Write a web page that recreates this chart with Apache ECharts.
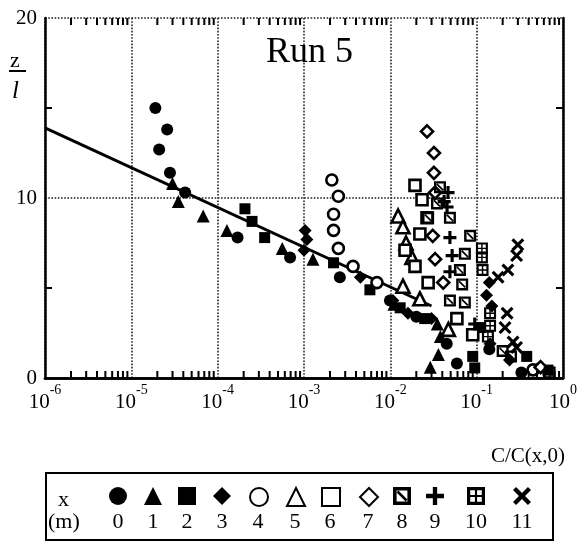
<!DOCTYPE html>
<html><head><meta charset="utf-8">
<script src="https://cdn.jsdelivr.net/npm/echarts@6/dist/echarts.min.js"></script>
<style>html,body{margin:0;padding:0;background:#fff}#c{width:584px;height:542px}</style>
</head><body><div id="c"></div>
<script>
// ---- data (C/C(x,0), z/l) ----
const seriesNames = ['0','1','2','3','4','5','6','7','8','9','10','11'];
const x0 = [[1.9e-5,15.0],[2.6e-5,13.8],[2.1e-5,12.7],[2.8e-5,11.4],[4.2e-5,10.3],[1.7e-4,7.8],[6.9e-4,6.7],[2.6e-3,5.6],[9.9e-3,4.3],[0.02,3.4],[0.045,1.9],[0.059,0.8],[0.14,1.6],[0.33,0.3]];
const x1 = [[3.0e-5,10.8],[3.5e-5,9.8],[6.8e-5,9.0],[1.28e-4,8.2],[5.6e-4,7.2],[1.27e-3,6.6],[0.011,4.1],[0.035,3.0],[0.038,2.3],[0.036,1.3],[0.029,0.6]];
const x2 = [[2.07e-4,9.4],[2.5e-4,8.7],[3.5e-4,7.8],[2.2e-3,6.4],[5.8e-3,4.9],[0.013,3.9],[0.025,3.3],[0.09,1.2],[0.095,0.56],[0.11,2.8],[0.38,1.2],[0.67,0.44]];
const x3 = [[1.03e-3,8.2],[1.08e-3,7.7],[1.0e-3,7.1],[4.5e-3,5.6],[0.0107,4.3],[0.016,3.6],[0.03,3.3],[0.14,5.3],[0.13,4.6],[0.15,4.0],[0.143,1.9],[0.24,1.0],[0.5,0.5]];
const x4 = [[2.1e-3,11.0],[2.5e-3,10.1],[2.2e-3,9.1],[2.2e-3,8.2],[2.5e-3,7.2],[3.7e-3,6.2],[7.0e-3,5.3],[0.45,0.45]];
const x5 = [[0.0123,9.0],[0.014,8.4],[0.0152,7.5],[0.0178,6.7],[0.014,5.1],[0.022,4.4],[0.047,2.7]];
const x6 = [[0.0193,10.7],[0.0233,9.9],[0.0266,8.9],[0.022,8.0],[0.0148,7.1],[0.0193,6.2],[0.0274,5.3],[0.059,3.3],[0.09,2.4]];
const x7 = [[0.0266,13.7],[0.032,12.5],[0.032,11.4],[0.033,10.3],[0.031,7.9],[0.033,6.6],[0.041,5.3],[0.55,0.6]];
const x8 = [[0.0376,10.6],[0.0347,9.7],[0.0274,8.9],[0.049,8.9],[0.084,7.9],[0.073,6.9],[0.064,6.0],[0.068,5.2],[0.049,4.3],[0.073,4.2],[0.2,1.5],[0.25,1.2],[0.7,0.3]];
const x9 = [[0.0466,10.3],[0.042,9.8],[0.0454,9.5],[0.049,7.8],[0.052,6.8],[0.049,5.9],[0.095,3.0]];
const x10 = [[0.115,7.2],[0.115,6.7],[0.117,6.0],[0.143,3.6],[0.143,2.9],[0.135,2.3]];
const x11 = [[0.30,7.4],[0.29,6.8],[0.23,6.0],[0.177,5.6],[0.225,3.6],[0.213,2.8],[0.264,2.0],[0.29,1.7]];
const fitLine = [[1e-6,13.9],[0.03,4.0]];
const yTickLabels = {0:'0',10:'10',20:'20'};
const yMinorTicks = [5,15];
const legendNumbers = ['0','1','2','3','4','5','6','7','8','9','10','11'];

// ---- layout / style ----
const FONT = 'Liberation Serif';
const X_MIN = 1e-6, X_MAX = 1, Y_MIN = 0, Y_MAX = 20;
const legendX = [118,153,187,222,258,295,330,368,402,435,476,522];
const minorTicks = [];
for (let e = -6; e < 0; e++) for (let m = 2; m <= 9; m++) minorTicks.push(m * Math.pow(10, e));

const P_SQ_X = 'path://M0,0H10V10H0Z M2,2V8H8V2Z M2,3L3,2L8,7L7,8Z';
const P_PLUS = 'path://M3.8,0H6.2V3.8H10V6.2H6.2V10H3.8V6.2H0V3.8H3.8Z';
const P_GRID = 'path://M0,0H10V10H0Z M1.8,1.8V4.4H4.4V1.8Z M5.6,1.8V4.4H8.2V1.8Z M1.8,5.6V8.2H4.4V5.6Z M5.6,5.6V8.2H8.2V5.6Z';
const P_X = 'path://M0,1.7L1.7,0L5,3.3L8.3,0L10,1.7L6.7,5L10,8.3L8.3,10L5,6.7L1.7,10L0,8.3L3.3,5Z';

const filled = {color:'#000', borderWidth:0, opacity:1};
const open = {color:'#fff', borderColor:'#000', borderWidth:2.6, opacity:1};
const styles = [
  {symbol:'circle', size:12, item:filled},
  {symbol:'triangle', size:13, item:filled},
  {symbol:'rect', size:11, item:filled},
  {symbol:'diamond', size:13, item:filled},
  {symbol:'circle', size:11, item:open},
  {symbol:'triangle', size:13, item:open},
  {symbol:'rect', size:11, item:open},
  {symbol:'diamond', size:12, item:open},
  {symbol:P_SQ_X, size:12, item:filled},
  {symbol:P_PLUS, size:13, item:filled},
  {symbol:P_GRID, size:12, item:filled},
  {symbol:P_X, size:13, item:filled}
];
const datasets = [x0,x1,x2,x3,x4,x5,x6,x7,x8,x9,x10,x11];
const TICK_LEN = 7;
const tickLine = (x1,y1,x2,y2) => ({type:'line', shape:{x1:x1,y1:y1,x2:x2,y2:y2}, style:{stroke:'#000', lineWidth:2}});

const series = [{
  type:'line', data:fitLine, symbol:'none', silent:true,
  lineStyle:{color:'#000', width:3}, z:1
}, {
  // minor log ticks on bottom and top frame
  type:'custom', silent:true, z:3, clip:false,
  data:minorTicks.map(v => [v, Y_MIN]), encode:{x:0, y:1},
  renderItem:function(params, api){
    const v = api.value(0);
    const b = api.coord([v, Y_MIN]), t = api.coord([v, Y_MAX]);
    return {type:'group', children:[
      tickLine(b[0], b[1], b[0], b[1]-TICK_LEN),
      tickLine(t[0], t[1], t[0], t[1]+TICK_LEN)
    ]};
  }
}, {
  // ticks at 5 and 15 on left and right frame
  type:'custom', silent:true, z:3, clip:false,
  data:yMinorTicks.map(v => [X_MIN, v]), encode:{x:0, y:1},
  renderItem:function(params, api){
    const v = api.value(1);
    const l = api.coord([X_MIN, v]), r = api.coord([X_MAX, v]);
    return {type:'group', children:[
      tickLine(l[0], l[1], l[0]+TICK_LEN, l[1]),
      tickLine(r[0], r[1], r[0]-TICK_LEN, r[1])
    ]};
  }
}];
datasets.forEach((d,i) => series.push({
  type:'scatter', name:seriesNames[i], data:d,
  symbol:styles[i].symbol, symbolSize:styles[i].size,
  itemStyle:styles[i].item, z:2
}));

const legends = seriesNames.map((n,i) => ({
  data:[n], left:legendX[i]-9, top:487, padding:0,
  itemWidth:18, itemHeight:18, selectedMode:false,
  formatter:function(){return '';}, textStyle:{fontSize:1}
}));

const axisLineStyle = {color:'#000', width:2.5};
const gridLineStyle = {type:'dotted', color:'#222', width:1.6};
const option = {
  animation:false,
  backgroundColor:'#fff',
  title:[
    {text:'Run 5', left:266, top:35, padding:0, textStyle:{fontFamily:FONT, fontSize:36, fontWeight:'normal', color:'#000'}},
    {text:'C/C(x,0)', right:19, top:446, padding:0, textStyle:{fontFamily:FONT, fontSize:21, fontWeight:'normal', color:'#000'}}
  ],
  legend:legends,
  grid:{left:45, right:21, top:18, bottom:164, containLabel:false},
  xAxis:[
    {type:'log', logBase:10, min:X_MIN, max:X_MAX, position:'bottom',
     axisLine:{lineStyle:axisLineStyle},
     axisTick:{show:false},
     splitLine:{show:true, lineStyle:gridLineStyle},
     axisLabel:{show:true, margin:5, showMinLabel:true, showMaxLabel:true,
       formatter:function(v){return '{b|10}{s|' + Math.round(Math.log10(v)) + '}';},
       rich:{b:{fontFamily:FONT, fontSize:21, color:'#000', lineHeight:30, verticalAlign:'bottom'},
             s:{fontFamily:FONT, fontSize:14, color:'#000', lineHeight:30, verticalAlign:'top'}}}
    },
    {type:'log', logBase:10, min:X_MIN, max:X_MAX, position:'top',
     axisLine:{show:true, lineStyle:axisLineStyle}, splitLine:{show:false},
     axisLabel:{show:false}, axisTick:{show:false}
    }
  ],
  yAxis:[
    {type:'value', min:Y_MIN, max:Y_MAX, interval:10, position:'left',
     axisLine:{show:true, lineStyle:axisLineStyle},
     axisTick:{show:false},
     splitLine:{show:true, lineStyle:gridLineStyle},
     axisLabel:{margin:8, fontFamily:FONT, fontSize:21, color:'#000',
       formatter:function(v){return yTickLabels[v] || '';}}
    },
    {type:'value', min:Y_MIN, max:Y_MAX, interval:10, position:'right',
     axisLine:{show:true, lineStyle:axisLineStyle},
     axisTick:{show:false}, splitLine:{show:false}, axisLabel:{show:false}
    }
  ],
  graphic:[
    {type:'text', left:10, top:50, style:{text:'z', font:'22px "Liberation Serif"', fill:'#000'}},
    {type:'line', shape:{x1:9, y1:71, x2:26, y2:71}, style:{stroke:'#000', lineWidth:2}},
    {type:'text', left:12, top:79, style:{text:'l', font:'italic 25px "Liberation Serif"', fill:'#000'}},
    {type:'rect', shape:{x:46, y:473, width:507, height:67}, style:{fill:'none', stroke:'#000', lineWidth:2}},
    {type:'text', left:58, top:489, style:{text:'x', font:'22px "Liberation Serif"', fill:'#000'}},
    {type:'text', left:48, top:511, style:{text:'(m)', font:'22px "Liberation Serif"', fill:'#000'}}
  ].concat(legendNumbers.map((t,i) => ({
    type:'text', x:legendX[i], y:511,
    style:{text:t, font:'22px "Liberation Serif"', fill:'#000', align:'center', verticalAlign:'top'}
  }))),
  series:series
};
const chart = echarts.init(document.getElementById('c'), null, {renderer:'canvas'});
chart.setOption(option);
</script>
</body></html>
